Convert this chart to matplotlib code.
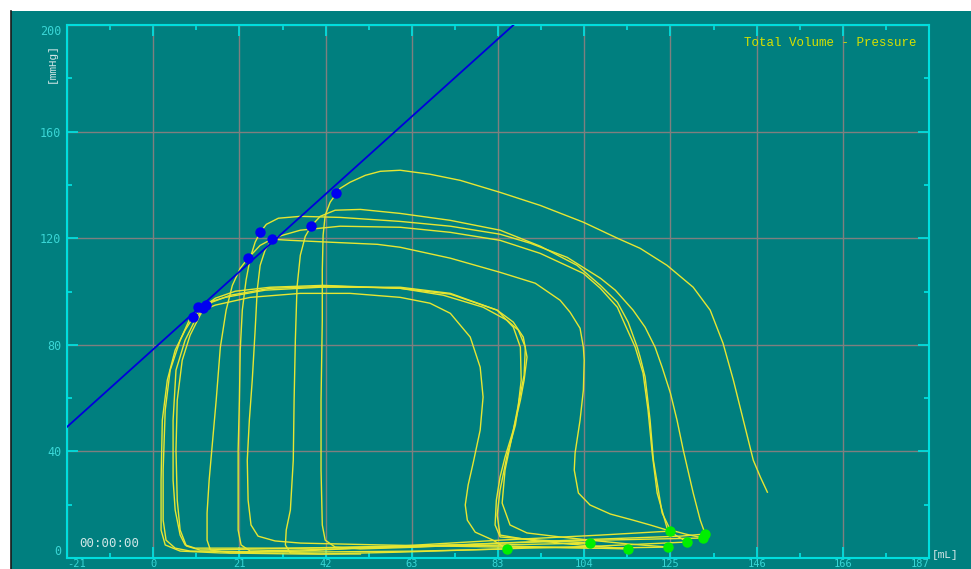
import matplotlib.pyplot as plt
from matplotlib.patches import Rectangle
from matplotlib.ticker import FixedLocator

# pressure-volume loops, one list pair per beat (mL, mmHg)
beat1_vol = [148.2, 146.5, 144.8, 142.4, 140.0, 137.5, 134.4, 130.3, 124.0, 117.5,
             112.0, 103.8, 93.4, 83.7, 74.1, 66.8, 59.6, 54.8, 51.2, 47.5,
             45.1, 44.2, 42.7, 41.5, 41.0, 40.8, 40.8, 40.5, 40.5, 40.8,
             41.5, 43.9, 50.0, 64.4, 83.7, 107.9, 127.2, 133.2]
beat1_prs = [24.7, 30.4, 36.7, 51.7, 66.7, 80.6, 93.0, 101.6, 109.8, 116.2,
             120.0, 126.0, 132.3, 137.2, 141.7, 144.0, 145.5, 145.1, 143.6, 141.0,
             138.7, 136.8, 133.5, 128.6, 121.1, 108.0, 89.2, 59.2, 33.0, 12.4,
             6.7, 4.1, 3.4, 4.1, 5.6, 7.1, 8.2, 9.0]

beat2_vol = [133.2, 132.0, 130.3, 127.9, 126.4, 124.8, 122.8, 121.1, 118.7, 115.8,
             111.5, 107.9, 99.9, 91.0, 83.7, 71.7, 59.6, 45.1, 35.5, 30.2,
             27.3, 25.8, 24.6, 23.4, 22.4, 21.5, 21.0, 20.8, 20.5, 20.5,
             20.5, 21.2, 23.4, 35.5, 59.6, 83.7, 107.9, 132.7]
beat2_prs = [9.0, 14.2, 24.4, 40.5, 51.7, 61.9, 71.6, 79.1, 86.6, 93.0,
             100.5, 105.0, 112.8, 118.1, 121.5, 124.5, 126.3, 127.8, 128.2, 127.5,
             125.2, 122.2, 118.5, 112.5, 104.2, 93.0, 78.0, 59.2, 40.5, 21.7,
             10.5, 4.9, 2.6, 3.0, 4.1, 5.6, 6.7, 7.5]

beat3_vol = [132.7, 128.4, 124.8, 122.8, 120.7, 119.9, 118.7, 117.5, 116.8, 114.6,
             112.0, 107.9, 102.3, 93.4, 83.7, 71.7, 59.6, 50.0, 43.9, 40.3,
             38.1, 36.7, 35.5, 34.7, 34.3, 34.0, 33.8, 33.1, 32.1, 31.9,
             33.1, 40.3, 59.6, 83.7, 107.9, 128.9]
beat3_prs = [7.5, 9.0, 10.5, 16.9, 36.7, 51.7, 67.9, 75.4, 79.1, 88.5,
             96.0, 102.3, 109.8, 117.0, 123.0, 126.7, 129.3, 130.8, 130.5, 128.2,
             124.5, 120.7, 113.6, 101.6, 81.7, 59.2, 36.7, 18.0, 10.5, 4.9,
             1.9, 1.5, 2.2, 3.4, 4.5, 6.0]

beat4_vol = [128.9, 126.0, 124.0, 121.6, 120.4, 119.4, 118.2, 116.3, 113.9, 112.0,
             107.9, 103.8, 93.4, 83.7, 71.7, 59.6, 45.1, 35.5, 29.4, 25.8,
             22.9, 21.0, 19.1, 17.6, 16.2, 15.2, 14.2, 13.5, 13.0, 13.0,
             13.8, 18.6, 35.5, 59.6, 83.7, 107.9, 124.8]
beat4_prs = [6.0, 8.6, 11.2, 24.4, 39.4, 55.5, 69.4, 79.1, 87.4, 94.1,
             101.2, 106.8, 114.3, 119.2, 122.2, 124.1, 124.5, 123.0, 120.3, 117.3,
             112.5, 108.7, 102.3, 93.0, 79.1, 59.2, 41.6, 29.2, 16.9, 6.7,
             3.0, 1.9, 2.6, 4.5, 6.7, 8.6, 10.1]

beat5_vol = [124.8, 119.9, 115.8, 110.3, 105.4, 102.6, 101.6, 101.8, 103.0, 103.8,
             104.0, 103.8, 103.0, 100.6, 98.2, 92.2, 83.7, 71.7, 59.6, 54.1,
             42.7, 33.1, 28.7, 27.0, 25.8, 25.1, 24.6, 23.9, 23.2, 22.7,
             22.9, 23.6, 25.3, 29.4, 35.5, 54.8, 83.7, 107.9, 124.3]
beat5_prs = [10.1, 12.4, 14.2, 16.5, 19.9, 24.4, 33.0, 39.4, 51.7, 63.0,
             74.2, 79.1, 86.2, 92.2, 96.7, 103.1, 107.2, 112.5, 116.6, 117.7,
             118.5, 119.2, 119.6, 115.5, 109.8, 100.5, 85.5, 66.7, 51.7, 36.7,
             21.7, 12.4, 8.2, 6.4, 5.6, 4.9, 4.1, 3.7, 4.1]

beat6_vol = [124.3, 115.1, 105.4, 98.2, 90.2, 86.1, 84.2, 84.9, 86.9, 88.6,
             89.5, 90.2, 89.3, 86.9, 83.0, 71.7, 59.6, 41.0, 28.2, 19.8,
             15.0, 12.8, 11.3, 8.9, 7.0, 5.8, 5.5, 5.8, 6.5, 8.0,
             11.3, 25.8, 47.5, 71.7, 95.8, 114.6]
beat6_prs = [4.1, 5.2, 6.7, 7.9, 9.4, 12.4, 20.6, 33.0, 48.0, 59.2,
             66.7, 75.4, 82.9, 88.5, 93.0, 99.0, 101.2, 102.3, 101.6, 100.1,
             97.5, 94.9, 91.1, 83.6, 74.2, 59.2, 40.5, 21.7, 10.5, 4.5,
             3.0, 3.4, 4.1, 4.9, 4.1, 3.4]

beat7_vol = [114.6, 103.0, 91.0, 83.7, 83.0, 83.7, 85.4, 87.4, 88.3, 89.5,
             89.8, 88.1, 85.4, 79.6, 70.0, 59.6, 42.7, 28.2, 18.6, 14.2,
             12.1, 10.1, 7.7, 5.5, 4.8, 4.8, 5.3, 6.5, 7.7, 10.1,
             35.5, 71.7, 105.4]
beat7_prs = [3.4, 4.9, 6.7, 8.6, 16.1, 25.5, 38.6, 49.9, 59.2, 68.6,
             79.1, 85.5, 89.2, 94.1, 98.6, 101.2, 102.0, 101.2, 98.6, 96.0,
             93.7, 89.2, 81.7, 70.5, 51.7, 29.2, 18.0, 8.6, 4.9, 3.7,
             3.7, 4.5, 5.6]

beat8_vol = [105.4, 93.4, 83.7, 82.5, 82.8, 83.7, 84.9, 86.9, 88.1, 88.8,
             88.6, 86.9, 83.0, 71.7, 59.6, 40.3, 27.0, 17.4, 12.5, 10.9,
             8.9, 6.5, 4.1, 2.9, 2.4, 2.4, 3.1, 5.3, 8.9, 35.5,
             64.4, 85.4]
beat8_prs = [5.6, 6.7, 7.9, 12.4, 21.7, 30.4, 37.9, 48.0, 57.4, 66.7,
             79.1, 86.6, 93.0, 99.3, 101.6, 101.6, 100.5, 97.8, 95.6, 94.1,
             90.0, 81.7, 70.5, 55.5, 33.0, 14.2, 6.7, 3.7, 2.6, 2.2,
             2.6, 3.4]

beat9_vol = [85.4, 82.0, 77.7, 75.8, 75.3, 76.0, 77.2, 78.9, 79.6, 78.9,
             76.5, 71.7, 66.8, 59.6, 47.5, 35.5, 23.4, 15.0, 11.3, 9.7,
             7.7, 5.3, 3.4, 2.2, 1.9, 1.9, 2.9, 6.5, 16.2, 35.5, 50.0]
beat9_prs = [3.4, 6.7, 9.7, 14.2, 19.9, 27.4, 35.6, 48.0, 60.4, 71.6,
             82.9, 91.8, 95.6, 97.8, 99.3, 99.3, 97.8, 94.9, 92.6, 90.4,
             85.5, 78.0, 66.7, 51.7, 29.2, 10.5, 4.9, 2.6, 1.9, 1.5, 1.5]

# end-systolic and end-diastolic points
es_vol = [44.2, 38.1, 28.7, 25.8, 22.9, 12.8, 12.1, 10.9, 9.7]
es_prs = [136.8, 124.5, 119.6, 122.2, 112.5, 94.9, 93.7, 94.1, 90.4]
ed_vol = [133.2, 132.7, 128.9, 124.8, 124.3, 114.6, 105.4, 85.4]
ed_prs = [9.0, 7.5, 6.0, 10.1, 4.1, 3.4, 5.6, 3.4]

# ESPVR fit
espvr_slope = 1.40
espvr_icpt = 78.3

x_labels = ['-21', '0', '21', '42', '63', '83', '104', '125', '146', '166', '187']
y_ticks = [0, 40, 80, 120, 160, 200]

TEAL = '#007f7f'
CYAN = '#00dede'
TICKTXT = '#3ad6d6'
GRID = '#7f7f7f'
YEL = '#e6e632'

fig = plt.figure(figsize=(9.71, 5.69), dpi=100, facecolor='white')
fig.patches.append(Rectangle((11 / 971, 0), 960 / 971, 558 / 569,
                             transform=fig.transFigure, facecolor=TEAL,
                             edgecolor='none', zorder=-2))
fig.add_artist(plt.Line2D([11 / 971, 11 / 971], [0, 558 / 569],
                          transform=fig.transFigure, color='#1a1a1a', lw=1.2))

ax = fig.add_axes([67 / 971, 11 / 569, 862 / 971, 533 / 569])
ax.set_facecolor(TEAL)

step = 20.8
x0 = -step
ax.set_xlim(x0, x0 + 10 * step)
ax.set_ylim(0, 200)

ax.xaxis.set_major_locator(FixedLocator([x0 + i * step for i in range(11)]))
ax.xaxis.set_minor_locator(FixedLocator([x0 + (i + 0.5) * step for i in range(10)]))
ax.set_xticklabels(x_labels)
ax.yaxis.set_major_locator(FixedLocator(y_ticks))
ax.yaxis.set_minor_locator(FixedLocator([t + 20 for t in y_ticks[:-1]]))
ax.set_yticklabels([str(t) for t in y_ticks])

for s in ax.spines.values():
    s.set_color(CYAN)
    s.set_linewidth(1.5)

ax.tick_params(which='both', direction='in', color=CYAN, width=1.3,
               top=True, right=True, labelcolor=TICKTXT, labelsize=8.5)
ax.tick_params(which='major', length=8)
ax.tick_params(which='minor', length=3.6)
ax.tick_params(axis='x', pad=0.5, labelsize=7.5)
ax.tick_params(axis='y', pad=4)
for lab in ax.get_xticklabels() + ax.get_yticklabels():
    lab.set_family('DejaVu Sans Mono')
xl = ax.get_xticklabels()
xl[0].set_ha('left')
xl[-1].set_ha('right')
yl = ax.get_yticklabels()
yl[0].set_va('bottom')
yl[-1].set_va('top')

ax.grid(which='major', color=GRID, lw=1.0)
ax.set_axisbelow(True)

beats = [(beat1_vol, beat1_prs), (beat2_vol, beat2_prs), (beat3_vol, beat3_prs),
         (beat4_vol, beat4_prs), (beat5_vol, beat5_prs), (beat6_vol, beat6_prs),
         (beat7_vol, beat7_prs), (beat8_vol, beat8_prs), (beat9_vol, beat9_prs)]
for vol, prs in beats:
    ax.plot(vol, prs, color=YEL, lw=1.0, solid_joinstyle='round', zorder=3)

vline = [x0, (200 - espvr_icpt) / espvr_slope]
ax.plot(vline, [espvr_slope * v + espvr_icpt for v in vline],
        color='#0000dc', lw=1.3, zorder=4)

ax.plot(es_vol, es_prs, 'o', color='#0000f0', ms=7.5, mec='none', zorder=5)
ax.plot(ed_vol, ed_prs, 'o', color='#00ee00', ms=7.5, mec='none', zorder=5)

ax.text(0.985, 0.966, 'Total Volume - Pressure', transform=ax.transAxes,
        ha='right', va='center', color='#d8e000', fontsize=9,
        family='Liberation Mono')
ax.text(0.014, 0.027, '00:00:00', transform=ax.transAxes, ha='left',
        va='center', color='#cfe6e6', fontsize=9, family='DejaVu Sans Mono')

fig.text(932 / 971, (569 - 555) / 569, '[mL]', ha='left', va='center',
         color='#d8e8e8', fontsize=8, family='Liberation Mono')
fig.text(52 / 971, (569 - 63) / 569, '[mmHg]', ha='center', va='center',
         rotation=90, color='#d8e8e8', fontsize=8, family='Liberation Mono')

fig.savefig('out.png', dpi=100, facecolor='white')
